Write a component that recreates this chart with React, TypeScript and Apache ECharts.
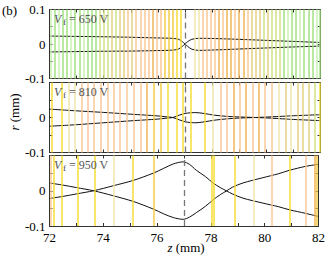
import { useEffect, useRef } from 'react';
import * as echarts from 'echarts';

// ---------- data ----------
const voltages = ['650', '810', '950'];
const zLabelValues = [72, 74, 76, 78, 80, 82];
const rLabelValues = [-0.1, 0, 0.1];
const dashedZ = 77;

// panel 1 (650 V)
const p1Z = [72, 73, 74, 75, 76, 76.5, 76.75, 76.9, 77.0, 77.1, 77.25, 77.5, 78, 79, 80, 81, 82];
const p1A = [0.023, 0.022, 0.021, 0.0195, 0.0175, 0.0165, 0.014, 0.007, 0.0, -0.007, -0.015, -0.0185, -0.0175, -0.0145, -0.0115, -0.0085, -0.006];
const p1B = [-0.023, -0.022, -0.021, -0.0205, -0.019, -0.018, -0.015, -0.007, 0.0, 0.007, 0.0135, 0.0165, 0.016, 0.0135, 0.0105, 0.0075, 0.0045];
const p1LineZ = [72.05, 72.2, 72.35, 72.5, 72.65, 72.8, 72.95, 73.1, 73.25, 73.4, 73.55, 73.7, 73.85, 74.0, 74.15, 74.3, 74.45, 74.6, 74.75, 74.9, 75.05, 75.2, 75.35, 75.5, 75.65, 75.8, 75.95, 76.1, 76.25, 76.4, 76.55, 76.7, 76.85,
  77.35, 77.5, 77.65, 77.8, 77.95, 78.1, 78.25, 78.4, 78.55, 78.7, 78.85, 79.0, 79.15, 79.3, 79.45, 79.6, 79.75, 79.9, 80.05, 80.2, 80.35, 80.5, 80.65, 80.8, 80.95, 81.1, 81.25, 81.4, 81.55, 81.7, 81.85, 81.97];
const p1LineKind = ['g', 'G', 'g', 'G', 'G', 'g', 'G', 'G', 'g', 'G', 'G', 'G', 'Y', 'Y', 'Y', 'K', 'Y', 'K', 'K', 'O', 'K', 'O', 'O', 'O', 'O', 'R', 'O', 'O', 'A', 'A', 'A', 'y', 'y',
  'P', 'P', 'O', 'O', 'O', 'O', 'R', 'O', 'R', 'R', 'O', 'R', 'R', 'O', 'K', 'K', 'K', 'Y', 'K', 'Y', 'Y', 'Y', 'G', 'g', 'G', 'G', 'g', 'G', 'G', 'G', 'g', 'G'];

// panel 2 (810 V)
const p2Z = [72, 73, 74, 75, 76, 76.3, 76.55, 76.8, 77.0, 77.2, 77.4, 77.7, 78.1, 78.6, 79.2, 79.6, 80.2, 81, 82];
const p2A = [0.024, 0.019, 0.0145, 0.0095, 0.0045, 0.002, 0.0, -0.007, -0.012, -0.0145, -0.015, -0.0125, -0.0075, -0.0035, -0.001, 0.0, 0.002, 0.005, 0.008];
const p2B = [-0.025, -0.0205, -0.015, -0.0095, -0.0045, -0.002, 0.0, 0.007, 0.0115, 0.0135, 0.014, 0.0115, 0.0065, 0.003, 0.001, 0.0, -0.002, -0.0055, -0.009];
const p2LineZ = [72.07, 72.44, 72.71, 72.93, 73.18, 73.4, 73.65, 73.89, 74.14, 74.36, 74.58, 74.85, 75.1, 75.35, 75.59, 75.84, 76.11, 76.38, 76.68, 76.92,
  77.2, 77.74, 78.03, 78.33, 78.55, 78.79, 79.02, 79.26, 79.49, 79.73, 79.96, 80.2, 80.45, 80.7, 80.89, 81.16, 81.36, 81.58, 81.8, 81.97];
const p2LineKind = ['y', 'y', 'P', 'P', 'O', 'O', 'O', 'O', 'O', 'O', 'O', 'O', 'O', 'O', 'R', 'A', 'A', 'y', 'y', 'y',
  'y', 'y', 'P', 'O', 'O', 'R', 'O', 'R', 'O', 'R', 'O', 'O', 'P', 'K', 'P', 'K', 'K', 'K', 'Y', 'y'];

// panel 3 (950 V)
const p3Z = [72, 72.5, 73, 73.64, 74.36, 75.1, 75.86, 76.23, 76.6, 76.97, 77.2, 77.46, 77.8, 78.08, 78.35, 78.57, 78.8, 79.19, 79.93, 80.5, 80.92, 81.51, 82];
const p3A = [0.022, 0.016, 0.009, 0.0, -0.014, -0.03, -0.052, -0.065, -0.076, -0.081, -0.075, -0.062, -0.044, -0.026, -0.011, -0.001, 0.01, 0.022, 0.037, 0.048, 0.058, 0.069, 0.075];
const p3B = [-0.022, -0.016, -0.009, 0.0, 0.014, 0.029, 0.05, 0.063, 0.076, 0.082, 0.075, 0.058, 0.04, 0.022, 0.009, 0.0, -0.009, -0.021, -0.035, -0.045, -0.054, -0.064, -0.073];
const p3LineZ = [72.06, 72.17, 72.47, 73.04, 73.7, 74.37, 75.11, 75.88, 78.05, 78.12, 78.88, 79.61, 80.27, 80.94, 81.51, 81.85, 81.95];
const p3LineKind = ['O', 'y', 'y', 'y', 'y', 'P', 'y', 'A', 'y', 'y', 'y', 'P', 'O', 'y', 'O', 'R', 'A'];

// ---------- styling ----------
const palette: Record<string, string> = {
  G: '#9ee27a', g: '#c6efac', Y: '#cde07c', K: '#e3cd7c', O: '#f8c690',
  R: '#f1b24f', A: '#f1ca3e', y: '#f3dc2c', P: '#efe6a8',
};
const FONT = 'Liberation Serif';
const panels = [
  { z: p1Z, a: p1A, b: p1B, lz: p1LineZ, lk: p1LineKind, top: 9.5, height: 69 },
  { z: p2Z, a: p2A, b: p2B, lz: p2LineZ, lk: p2LineKind, top: 82.5, height: 70 },
  { z: p3Z, a: p3A, b: p3B, lz: p3LineZ, lk: p3LineKind, top: 155.5, height: 70.5 },
];

export default function App() {
  const ref = useRef<HTMLDivElement>(null);
  useEffect(() => {
    if (!ref.current) return;
    const chart = echarts.init(ref.current, undefined, { renderer: 'svg' });
    const axisColor = '#333';
    const grid: any[] = [];
    const xAxis: any[] = [];
    const yAxis: any[] = [];
    const series: any[] = [];
    const graphic: any[] = [];

    panels.forEach((p, i) => {
      grid.push({ left: 49.5, right: 7.5, top: p.top, height: p.height });
      const xBase = {
        gridIndex: i, type: 'value', min: 72, max: 82, interval: 1,
        axisLine: { show: true, onZero: false, lineStyle: { color: axisColor, width: 1 } },
        axisTick: { show: true, inside: true, length: 3, lineStyle: { color: axisColor } },
        splitLine: { show: false },
      };
      xAxis.push({
        ...xBase, position: 'bottom',
        axisLabel: {
          show: i === 2, margin: 5, fontFamily: FONT, fontSize: 13, color: '#000',
          formatter: (v: number) => (zLabelValues.includes(v) ? String(v) : ''),
        },
      });
      xAxis.push({ ...xBase, position: 'top', axisLabel: { show: false } });
      const yBase = {
        gridIndex: i, type: 'value', min: -0.1, max: 0.1, interval: 0.05,
        axisLine: { show: true, onZero: false, lineStyle: { color: axisColor, width: 1 } },
        axisTick: { show: true, inside: true, length: 3, lineStyle: { color: axisColor } },
        splitLine: { show: false },
      };
      yAxis.push({
        ...yBase, position: 'left',
        axisLabel: {
          show: true, margin: 4, fontFamily: FONT, fontSize: 13, color: '#000',
          formatter: (v: number) => {
            const r = Math.round(v * 100) / 100;
            if (!rLabelValues.includes(r)) return '';
            if (i > 0 && r === 0.1) return '';
            return String(r);
          },
        },
      });
      yAxis.push({ ...yBase, position: 'right', axisLabel: { show: false } });

      const lineData: any[] = p.lz.map((z, k) => ({
        xAxis: z,
        lineStyle: { color: palette[p.lk[k]], width: 1.5, type: 'solid', opacity: 0.95 },
      }));
      lineData.push({ xAxis: dashedZ, lineStyle: { color: '#777', width: 1.3, type: [6, 4] } });
      series.push({
        type: 'line', xAxisIndex: 2 * i, yAxisIndex: 2 * i, data: [], z: 1,
        markLine: { silent: true, symbol: ['none', 'none'], label: { show: false }, animation: false, data: lineData },
      });
      [p.a, p.b].forEach((r) => {
        series.push({
          type: 'line', xAxisIndex: 2 * i, yAxisIndex: 2 * i, z: 3,
          data: p.z.map((z, k) => [z, r[k]]),
          showSymbol: false, smooth: 0.3,
          lineStyle: { color: '#111', width: 1 },
        });
      });
      const ty = p.top + 9;
      graphic.push({ type: 'text', x: 54, y: ty, z: 100, style: { text: 'V', fontFamily: FONT, fontSize: 12, fontStyle: 'italic', fill: '#555', verticalAlign: 'middle' } });
      graphic.push({ type: 'text', x: 63, y: ty + 3.5, z: 100, style: { text: 'f', fontFamily: FONT, fontSize: 9, fill: '#444', verticalAlign: 'middle' } });
      graphic.push({ type: 'text', x: 69, y: ty, z: 100, style: { text: `= ${voltages[i]} V`, fontFamily: FONT, fontSize: 12, fill: '#555', verticalAlign: 'middle' } });
    });

    graphic.push({
      type: 'text', left: 2, top: 4,
      style: { text: '(b)', fontFamily: FONT, fontSize: 13, fill: '#000' },
    });
    graphic.push({
      type: 'text', x: 14, y: 112, rotation: Math.PI / 2,
      style: {
        text: '{i|r} (mm)', fontFamily: FONT, fontSize: 13, fill: '#000',
        align: 'center', verticalAlign: 'middle',
        rich: { i: { fontFamily: FONT, fontSize: 13, fontStyle: 'italic', fill: '#000' } },
      },
    });
    graphic.push({
      type: 'text', x: 186, y: 247,
      style: {
        text: '{i|z} (mm)', fontFamily: FONT, fontSize: 13, fill: '#000',
        align: 'center', verticalAlign: 'middle',
        rich: { i: { fontFamily: FONT, fontSize: 13, fontStyle: 'italic', fill: '#000' } },
      },
    });

    chart.setOption({
      animation: false,
      backgroundColor: '#fff',
      grid, xAxis, yAxis, series, graphic,
    });
    return () => chart.dispose();
  }, []);
  return <div ref={ref} style={{ position: 'absolute', left: 0, top: 0, width: 328, height: 261 }} />;
}
